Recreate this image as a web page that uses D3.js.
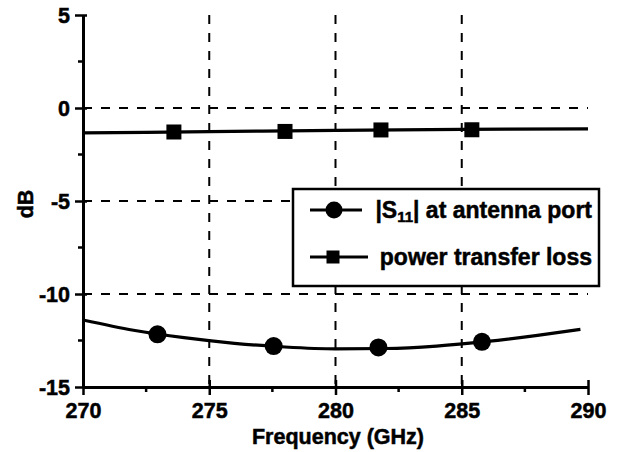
<!DOCTYPE html>
<html>
<head>
    <meta http-equiv="Content-Type" content="text/html" charset="UTF-8">
    <title>dB vs Frequency</title>
    <style>
        body { margin: 0; background: #fff; }
        svg text {
            font-family: "Liberation Sans", Arial, sans-serif;
            font-weight: bold;
            fill: #000;
            stroke: #000;
            stroke-width: 0.5px;
        }
    </style>
</head>
<body>
<div id="chart"></div>
<script src="https://cdn.jsdelivr.net/npm/d3@7"></script>
<script>

    // Data
    var s11Freq = [270, 272, 274, 276, 278, 280, 282, 284, 286, 288, 289.7];
    var s11Db = [-11.4, -11.95, -12.35, -12.65, -12.85, -12.95, -12.93, -12.8, -12.55, -12.22, -11.9];
    var s11MarkFreq = [272.95, 277.55, 281.7, 285.8];
    var s11MarkDb = [-12.17, -12.8, -12.87, -12.57];

    var lossFreq = [270, 275, 280, 285, 290];
    var lossDb = [-1.34, -1.27, -1.2, -1.15, -1.12];
    var lossMarkFreq = [273.6, 278.0, 281.8, 285.4];
    var lossMarkDb = [-1.29, -1.26, -1.18, -1.17];

    var xTicks = [270, 275, 280, 285, 290];
    var xMinor = [272.5, 277.5, 282.5, 287.5];
    var yTicks = [5, 0, -5, -10, -15];
    var yMinor = [2.5, -2.5, -7.5, -12.5];
    var xGrid = [275, 280, 285];
    var yGrid = [0, -5, -10];

    var legendLabels = ["at antenna port", "power transfer loss"];

    var W = 625, H = 452;
    // plot box (note: "top" is reserved on window, so use pl/pr/pt/pb)
    var pl = 83, pr = 588, pt = 15, pb = 387;

    var svg = d3.select("#chart").append("svg")
        .attr("width", W)
        .attr("height", H);

    var x = d3.scaleLinear().domain([270, 290]).range([pl, pr]);
    var y = d3.scaleLinear().domain([-15, 5]).range([pb, pt]);

    // dashed grid
    svg.append("g").selectAll("line").data(xGrid).enter().append("line")
        .attr("x1", d => x(d)).attr("x2", d => x(d))
        .attr("y1", pt).attr("y2", pb)
        .attr("stroke", "#000").attr("stroke-width", 2)
        .attr("stroke-dasharray", "9,9");
    svg.append("g").selectAll("line").data(yGrid).enter().append("line")
        .attr("x1", pl).attr("x2", pr)
        .attr("y1", d => y(d)).attr("y2", d => y(d))
        .attr("stroke", "#000").attr("stroke-width", 2)
        .attr("stroke-dasharray", "9,9");

    // axes, plain hyphen for the minus sign like the original
    var fmt = d => String(d);
    var xAxis = svg.append("g").attr("transform", "translate(0," + pb + ")")
        .call(d3.axisBottom(x).tickValues(xTicks).tickFormat(fmt).tickSize(8).tickPadding(6).tickSizeOuter(0));
    var yAxis = svg.append("g").attr("transform", "translate(" + pl + ",0)")
        .call(d3.axisLeft(y).tickValues(yTicks).tickFormat(fmt).tickSize(8).tickPadding(5).tickSizeOuter(0));

    [xAxis, yAxis].forEach(function (g) {
        g.select(".domain").attr("stroke-width", 3);
        g.selectAll(".tick line").attr("stroke-width", 2.5);
        g.selectAll(".tick text").attr("font-size", 21.5)
            .attr("font-family", "Liberation Sans, Arial, sans-serif")
            .attr("font-weight", "bold");
    });
    // major ticks also cross inward a little
    xAxis.selectAll(".tick line").attr("y1", -7);
    yAxis.selectAll(".tick line").attr("x1", 4);
    xAxis.selectAll(".tick text").attr("dy", "0.8em");
    yAxis.selectAll(".tick text").attr("dy", "0.36em");

    // minor ticks
    svg.append("g").selectAll("line").data(xMinor).enter().append("line")
        .attr("x1", d => x(d)).attr("x2", d => x(d))
        .attr("y1", pb).attr("y2", pb + 5)
        .attr("stroke", "#000").attr("stroke-width", 2.5);
    svg.append("g").selectAll("line").data(yMinor).enter().append("line")
        .attr("x1", pl - 5).attr("x2", pl)
        .attr("y1", d => y(d)).attr("y2", d => y(d))
        .attr("stroke", "#000").attr("stroke-width", 2.5);

    // axis titles
    svg.append("text")
        .attr("x", 338).attr("y", 444)
        .attr("text-anchor", "middle").attr("font-size", 21.5)
        .text("Frequency (GHz)");
    svg.append("text")
        .attr("transform", "translate(33," + ((pt + pb) / 2 + 3) + ") rotate(-90)")
        .attr("text-anchor", "middle").attr("font-size", 21.5)
        .text("dB");

    // lines
    var line = d3.line()
        .x(d => x(d[0]))
        .y(d => y(d[1]))
        .curve(d3.curveMonotoneX);

    svg.append("path")
        .datum(d3.zip(s11Freq, s11Db))
        .attr("d", line)
        .attr("fill", "none").attr("stroke", "#000").attr("stroke-width", 3.2);
    svg.append("path")
        .datum(d3.zip(lossFreq, lossDb))
        .attr("d", line)
        .attr("fill", "none").attr("stroke", "#000").attr("stroke-width", 3.2);

    // markers
    svg.append("g").selectAll("circle").data(d3.zip(s11MarkFreq, s11MarkDb)).enter().append("circle")
        .attr("cx", d => x(d[0])).attr("cy", d => y(d[1]))
        .attr("r", 9).attr("fill", "#000");
    var sq = 15;
    svg.append("g").selectAll("rect").data(d3.zip(lossMarkFreq, lossMarkDb)).enter().append("rect")
        .attr("x", d => x(d[0]) - sq / 2).attr("y", d => y(d[1]) - sq / 2)
        .attr("width", sq).attr("height", sq).attr("fill", "#000");

    // legend
    var lg = svg.append("g");
    lg.append("rect")
        .attr("x", 293).attr("y", 189).attr("width", 306).attr("height", 97)
        .attr("fill", "#fff").attr("stroke", "#000").attr("stroke-width", 2.5);

    lg.append("line").attr("x1", 310).attr("x2", 362).attr("y1", 210).attr("y2", 210)
        .attr("stroke", "#000").attr("stroke-width", 3.2);
    lg.append("circle").attr("cx", 334).attr("cy", 210).attr("r", 8.5).attr("fill", "#000");
    var t1 = lg.append("text").attr("x", 592).attr("y", 218)
        .attr("text-anchor", "end").attr("font-size", 23);
    t1.append("tspan").text("|S");
    t1.append("tspan").attr("font-size", 15).attr("dy", 4).text("11");
    t1.append("tspan").attr("dy", -4).text("| " + legendLabels[0]);

    lg.append("line").attr("x1", 310).attr("x2", 368).attr("y1", 257).attr("y2", 257)
        .attr("stroke", "#000").attr("stroke-width", 3.2);
    lg.append("rect").attr("x", 333 - 6.5).attr("y", 257 - 6.5).attr("width", 13).attr("height", 13)
        .attr("fill", "#000");
    lg.append("text").attr("x", 592).attr("y", 265)
        .attr("text-anchor", "end").attr("font-size", 23)
        .text(legendLabels[1]);

</script>
</body>
</html>
